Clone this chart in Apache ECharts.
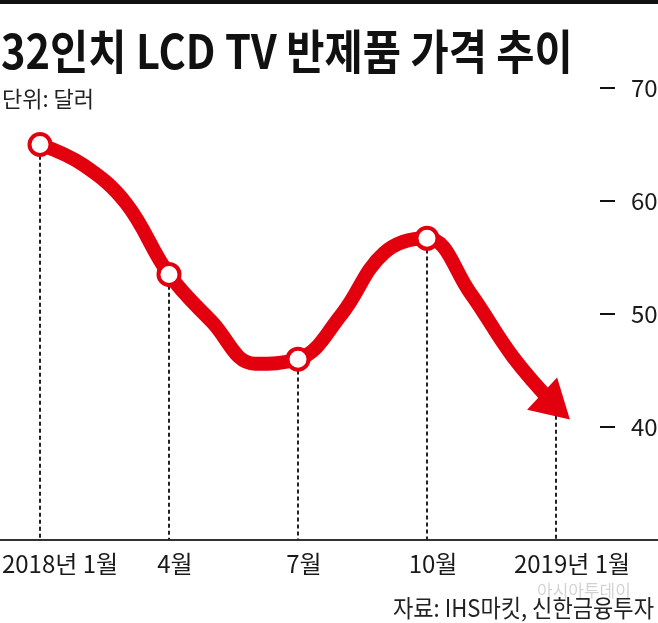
<!DOCTYPE html>
<html>
<head>
<meta charset="utf-8">
<script src="https://cdn.jsdelivr.net/npm/echarts@6/dist/echarts.min.js"></script>
<style>
html,body{margin:0;padding:0;background:#fff;}
#chart{width:658px;height:623px;}
</style>
</head>
<body>
<div id="chart"></div>
<script>
// ---- data ----
const months = [0,1,2,3,4,5,6,7,8,9,10,11,12];           // months since 2018-01
const prices = [65.0,63.2,59.8,53.5,49.3,45.6,46.0,49.9,55.4,56.7,51.9,46.2,41.8]; // USD
const markerMonths = [0,3,6,9];                              // hollow circle markers
const arrowMonth = 12;
const xTickMonths = [0,3,6,9,12];
const xTickLabels = ['2018년 1월','4월','7월','10월','2019년 1월'];
const yTicks = [40,50,60,70];

const RED = '#e2000f';
const FONT = "'Noto Sans CJK KR','Noto Sans',sans-serif";

const seriesData = months.map((m,i)=>{
  const item = {value:[m, prices[i]]};
  if (markerMonths.indexOf(m) >= 0) {
    item.symbol = 'circle'; item.symbolSize = 21;
  } else if (m === arrowMonth) {
    item.symbol = 'triangle'; item.symbolSize = [44, 38]; item.symbolRotate = -133;
    item.itemStyle = {color: RED, borderWidth: 0};
  } else {
    item.symbol = 'none';
  }
  return item;
});

const dropLines = xTickMonths.map(m=>{
  const v = prices[months.indexOf(m)];
  const start = (m === arrowMonth) ? v - 0.8 : v - 1.0;
  return [{coord:[m, start]}, {coord:[m, 30]}];
});

const labelMap = {};
xTickMonths.forEach((m,i)=>labelMap[m] = xTickLabels[i]);

const chart = echarts.init(document.getElementById('chart'), null, {renderer:'canvas'});
chart.setOption({
  animation: false,
  backgroundColor: '#fff',
  grid: {left: 0, right: 58, top: 88, bottom: 83, containLabel: false, outerBoundsMode: 'none'},
  xAxis: {
    type: 'value',
    min: -40/43,
    max: 12 + 44/43,
    axisLine: {show: true, onZero: false, lineStyle: {color: '#333', width: 2}},
    axisTick: {show: false},
    minorTick: {show: false},
    splitLine: {show: false},
    axisLabel: {
      customValues: xTickMonths,
      margin: 12,
      color: '#1a1a1a',
      fontSize: 24,
      fontFamily: FONT,
      hideOverlap: false,
      formatter: function(v){
        const t = labelMap[v];
        if (v === 0) return '{a|' + t + '}';
        if (v === 12) return '{b|' + t + '}';
        return '{c|' + t + '}';
      },
      rich: {
        a: {fontSize: 24, fontFamily: FONT, color:'#1a1a1a', padding:[0,0,0,40]},
        b: {fontSize: 24, fontFamily: FONT, color:'#1a1a1a', padding:[0,0,0,32]},
        c: {fontSize: 24, fontFamily: FONT, color:'#1a1a1a', padding:[0,0,0,12]}
      }
    }
  },
  yAxis: {
    type: 'value',
    position: 'right',
    min: 30,
    max: 70,
    axisLine: {show: false, onZero: false},
    splitLine: {show: false},
    axisTick: {show: false},
    minorTick: {show: false},
    axisLabel: {
      customValues: yTicks,
      margin: 0,
      align: 'left',
      formatter: function(v){ return '{d|}{v|' + v + '}'; },
      rich: {
        d: {width: 15, height: 2, backgroundColor: '#111', verticalAlign: 'middle'},
        v: {fontSize: 24, fontFamily: FONT, color: '#1a1a1a', padding: [0,0,0,16], verticalAlign: 'middle'}
      }
    }
  },
  series: [{
    type: 'line',
    data: seriesData,
    smooth: 0.4,
    showAllSymbol: true,
    symbol: 'circle',
    symbolSize: 21,
    lineStyle: {color: RED, width: 14, cap: 'round', join: 'round'},
    itemStyle: {color: '#fff', borderColor: RED, borderWidth: 4},
    z: 3,
    markLine: {
      silent: true,
      symbol: ['none','none'],
      label: {show: false},
      lineStyle: {color: '#222', width: 2, type: [4,3]},
      z: 1,
      data: dropLines
    }
  }],
  graphic: [
    {type:'rect', left:0, top:0, shape:{width:658, height:4}, style:{fill:'#111'}},
    {type:'rect', x:600, y:539, shape:{width:58, height:2}, style:{fill:'#333'}},
    {type:'text', x:1, y:28, scaleX:0.885, style:{text:'32인치 LCD TV 반제품 가격 추이', font:"bold 47px 'Noto Sans CJK KR',sans-serif", fill:'#111'}},
    {type:'text', x:2, y:88, style:{text:'단위: 달러', font:"22px 'Noto Sans CJK KR',sans-serif", fill:'#222'}},
    {type:'text', x:537, y:582, style:{text:'아시아투데이', font:"17px 'Noto Sans CJK KR',sans-serif", fill:'rgba(0,0,0,0.18)'}},
    {type:'text', x:654, y:596, scaleX:0.92, style:{text:'자료: IHS마킷, 신한금융투자', align:'right', font:"24px 'Noto Sans CJK KR',sans-serif", fill:'#222'}}
  ]
});
</script>
</body>
</html>
